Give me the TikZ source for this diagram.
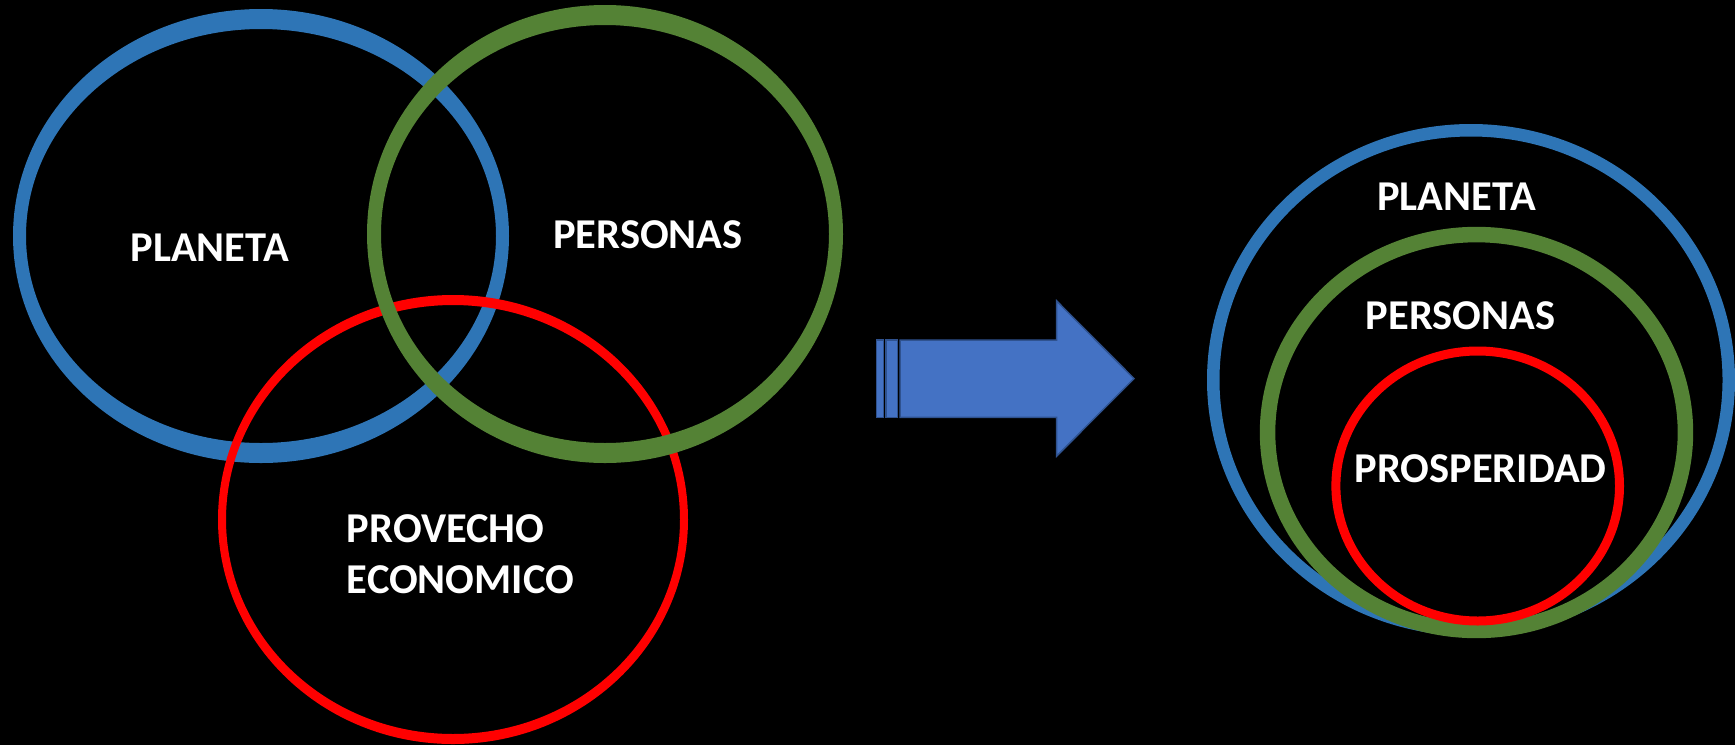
\documentclass[tikz,border=0pt]{standalone}
\usepackage{fontspec}
\setmainfont{Carlito}
\definecolor{ringblue}{RGB}{46,117,182}
\definecolor{ringgreen}{RGB}{84,130,53}
\definecolor{ringred}{RGB}{255,0,0}
\definecolor{arrowfill}{RGB}{68,114,196}
\definecolor{arrowline}{RGB}{47,82,143}
\tikzset{
  lbl/.style={text=white, inner sep=0pt, font=\bfseries\fontsize{42.5}{52}\selectfont},
  ring/.style={even odd rule, fill=#1},
  arrowpart/.style={fill=arrowfill, draw=arrowline, line width=1.5pt, line join=miter}
}
\begin{document}
\begin{tikzpicture}[x=1pt,y=-1pt]
\fill[black] (0,0) rectangle (1735,745);
\useasboundingbox (0,0) rectangle (1735,745);
% left Venn: blue, red, green (stacking order)
\fill[ring=ringblue] (261,236) ellipse [x radius=248, y radius=227]
                     (261,236) ellipse [x radius=235, y radius=207];
\fill[ring=ringred]  (453,519.5) ellipse [x radius=235, y radius=224.5]
                     (453,519.5) ellipse [x radius=227, y radius=214.5];
\fill[ring=ringgreen] (605,234) ellipse [x radius=238, y radius=229]
                      (605,234) ellipse [x radius=224, y radius=209];
\node[lbl, anchor=base] (planetaL) at (209.7,261.5) {PLANETA};
\node[lbl, anchor=base] (personasL) at (648,248.2) {PERSONAS};
\node[lbl, anchor=base west] (provecho) at (346.7,542) {PROVECHO};
\node[lbl, anchor=base west] (economico) at (346.7,593.5) {ECONOMICO};
% arrow
\draw[arrowpart] (876.7,340) rectangle (883.3,417.3);
\draw[arrowpart] (886,340) rectangle (897.7,417.3);
\draw[arrowpart] (900,340) -- (1056.7,340) -- (1056.7,301) -- (1134,378.6)
   -- (1056.7,456) -- (1056.7,417.3) -- (900,417.3) -- cycle;
% right nested
\fill[ring=ringblue] (1471,380) ellipse [x radius=264, y radius=256]
                     (1471,380) ellipse [x radius=251.5, y radius=243.5];
\fill[ring=ringgreen] (1476.5,432.5) ellipse [x radius=216.7, y radius=205.7]
                      (1476.5,432.5) ellipse [x radius=201.2, y radius=190.2];
\fill[ring=ringred] (1477.7,486) ellipse [x radius=146.3, y radius=139.5]
                    (1477.7,486) ellipse [x radius=137.3, y radius=130.5];
\node[lbl, anchor=base] (planetaR) at (1456.6,210.5) {PLANETA};
\node[lbl, anchor=base] (personasR) at (1460.6,329) {PERSONAS};
\node[lbl, anchor=base] (prosperidad) at (1480.6,482.5) {PROSPERIDAD};
\end{tikzpicture}
\end{document}
